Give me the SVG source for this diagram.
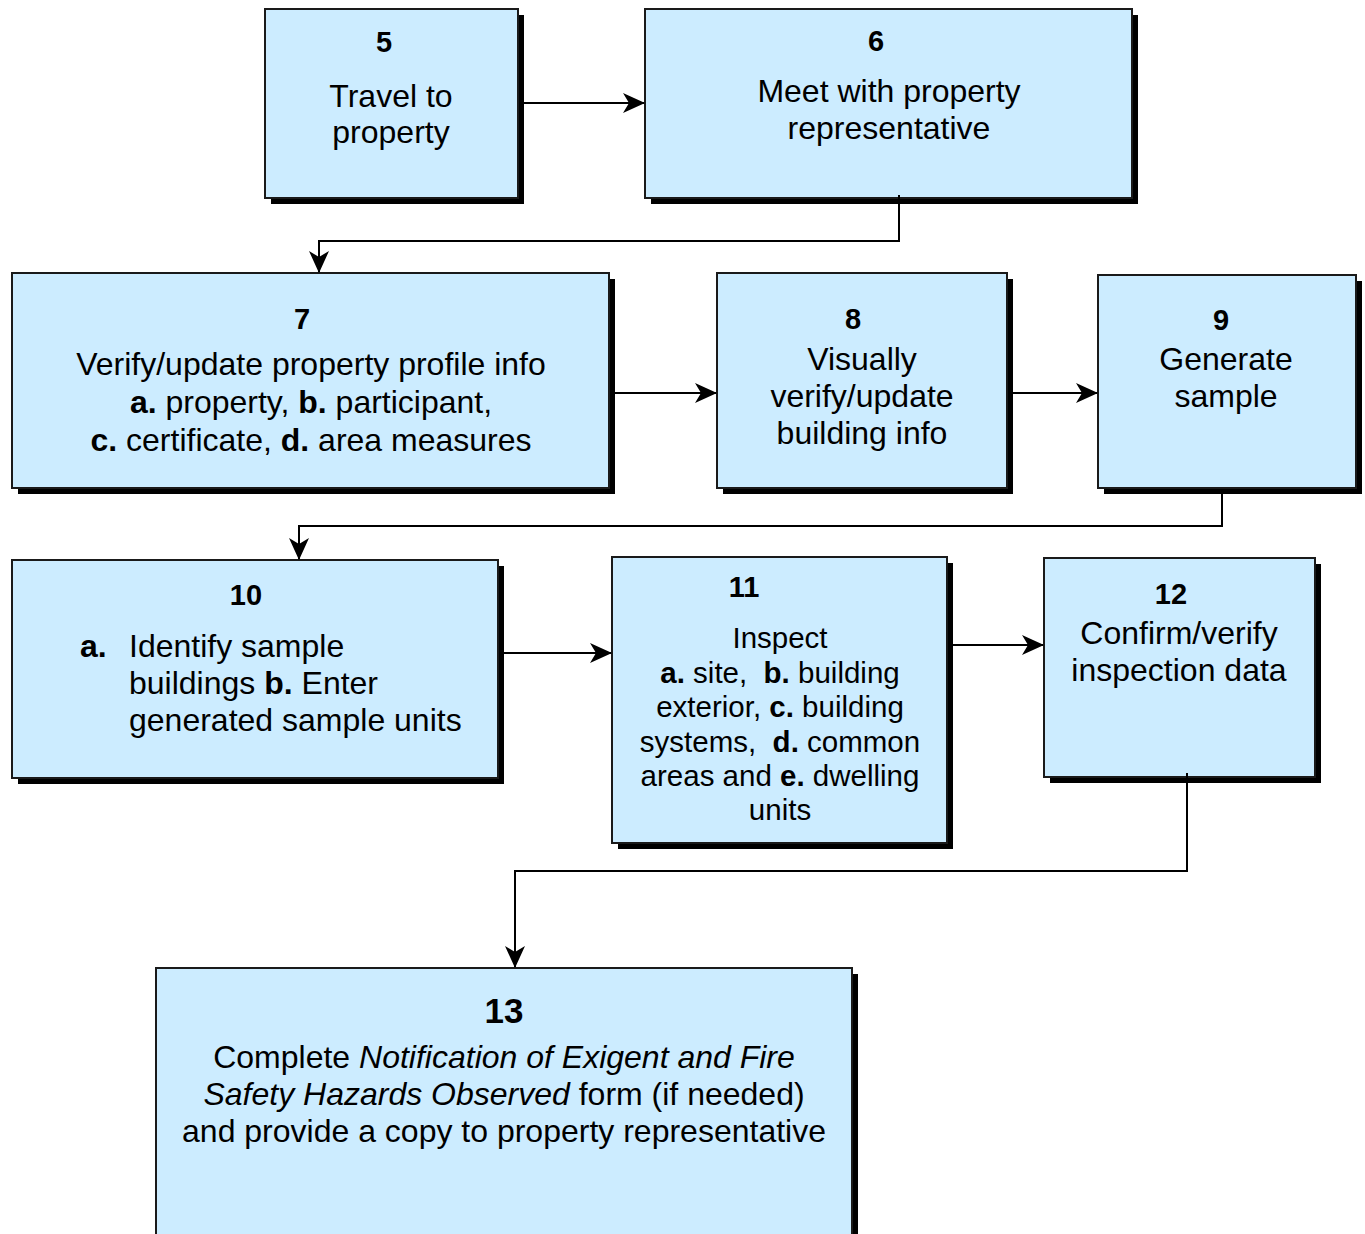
<svg xmlns="http://www.w3.org/2000/svg" width="1365" height="1234" viewBox="0 0 1365 1234">
<defs>
<marker id="arr" markerWidth="22" markerHeight="20" refX="21" refY="10" orient="auto" markerUnits="userSpaceOnUse">
<path d="M0,0 L22,10 L0,20 L6,10 Z" fill="#000"/>
</marker>
<style>
.sh{fill:#000}
.bx{fill:#CCECFF;stroke:#1a1a1a;stroke-width:2}
text{font-family:"Liberation Sans",Arial,sans-serif;fill:#000;white-space:pre}
.n{font-weight:bold;font-size:29px;text-anchor:middle}
.t{font-size:32px;text-anchor:middle}
.t11{font-size:29.5px;text-anchor:middle}
.b{font-weight:bold}
.i{font-style:italic}
.c{fill:none;stroke:#000;stroke-width:2}
</style>
</defs>
<rect width="1365" height="1234" fill="#fff"/>
<g id="n5">
<rect class="sh" x="271" y="15" width="253" height="189"/>
<rect class="bx" x="265" y="9" width="253" height="189"/>
<text class="n" x="384" y="52">5</text>
<text class="t" x="391" y="107">Travel to</text>
<text class="t" x="391" y="143">property</text>
</g>
<g id="n6">
<rect class="sh" x="651" y="15" width="487" height="189"/>
<rect class="bx" x="645" y="9" width="487" height="189"/>
<text class="n" x="876" y="51">6</text>
<text class="t" x="889" y="102">Meet with property</text>
<text class="t" x="889" y="139">representative</text>
</g>
<g id="n7">
<rect class="sh" x="18" y="279" width="597" height="215"/>
<rect class="bx" x="12" y="273" width="597" height="215"/>
<text class="n" x="302" y="329">7</text>
<text class="t" x="311" y="375">Verify/update property profile info</text>
<text class="t" x="311" y="413"><tspan class="b">a.</tspan> property, <tspan class="b">b.</tspan> participant,</text>
<text class="t" x="311" y="451"><tspan class="b">c.</tspan> certificate, <tspan class="b">d.</tspan> area measures</text>
</g>
<g id="n8">
<rect class="sh" x="723" y="279" width="290" height="215"/>
<rect class="bx" x="717" y="273" width="290" height="215"/>
<text class="n" x="853" y="329">8</text>
<text class="t" x="862" y="370">Visually</text>
<text class="t" x="862" y="407">verify/update</text>
<text class="t" x="862" y="444">building info</text>
</g>
<g id="n9">
<rect class="sh" x="1104" y="281" width="258" height="213"/>
<rect class="bx" x="1098" y="275" width="258" height="213"/>
<text class="n" x="1221" y="330">9</text>
<text class="t" x="1226" y="370">Generate</text>
<text class="t" x="1226" y="407">sample</text>
</g>
<g id="n10">
<rect class="sh" x="18" y="566" width="486" height="218"/>
<rect class="bx" x="12" y="560" width="486" height="218"/>
<text class="n" x="246" y="605">10</text>
<text class="t b" x="80" y="657" style="text-anchor:start">a.</text>
<text class="t" x="129" y="657" style="text-anchor:start">Identify sample</text>
<text class="t" x="129" y="694" style="text-anchor:start">buildings <tspan class="b">b.</tspan> Enter</text>
<text class="t" x="129" y="731" style="text-anchor:start">generated sample units</text>
</g>
<g id="n11">
<rect class="sh" x="618" y="563" width="335" height="286"/>
<rect class="bx" x="612" y="557" width="335" height="286"/>
<text class="n" x="744" y="597">11</text>
<text class="t11" x="780" y="648">Inspect</text>
<text class="t11" x="780" y="683"><tspan class="b">a.</tspan> site,  <tspan class="b">b.</tspan> building</text>
<text class="t11" x="780" y="717">exterior, <tspan class="b">c.</tspan> building</text>
<text class="t11" x="780" y="752">systems,  <tspan class="b">d.</tspan> common</text>
<text class="t11" x="780" y="786">areas and <tspan class="b">e.</tspan> dwelling</text>
<text class="t11" x="780" y="820">units</text>
</g>
<g id="n12">
<rect class="sh" x="1050" y="564" width="271" height="219"/>
<rect class="bx" x="1044" y="558" width="271" height="219"/>
<text class="n" x="1171" y="604">12</text>
<text class="t" x="1179" y="644">Confirm/verify</text>
<text class="t" x="1179" y="681">inspection data</text>
</g>
<g id="n13">
<rect class="sh" x="162" y="974" width="696" height="280"/>
<rect class="bx" x="156" y="968" width="696" height="280"/>
<text class="n" x="504" y="1023" style="font-size:35px">13</text>
<text class="t" x="504" y="1068">Complete <tspan class="i">Notification of Exigent and Fire</tspan></text>
<text class="t" x="504" y="1105"><tspan class="i">Safety Hazards Observed</tspan> form (if needed)</text>
<text class="t" x="504" y="1142">and provide a copy to property representative</text>
</g>
<g id="connectors">
<path class="c" d="M524,103 H644" marker-end="url(#arr)"/>
<path class="c" d="M899,195 V241 H319 V272" marker-end="url(#arr)"/>
<path class="c" d="M615,393 H716" marker-end="url(#arr)"/>
<path class="c" d="M1013,393 H1097" marker-end="url(#arr)"/>
<path class="c" d="M1222,494 V526 H299 V559" marker-end="url(#arr)"/>
<path class="c" d="M504,653 H611" marker-end="url(#arr)"/>
<path class="c" d="M953,645 H1043" marker-end="url(#arr)"/>
<path class="c" d="M1187,773 V871 H515 V967" marker-end="url(#arr)"/>
</g>
</svg>
